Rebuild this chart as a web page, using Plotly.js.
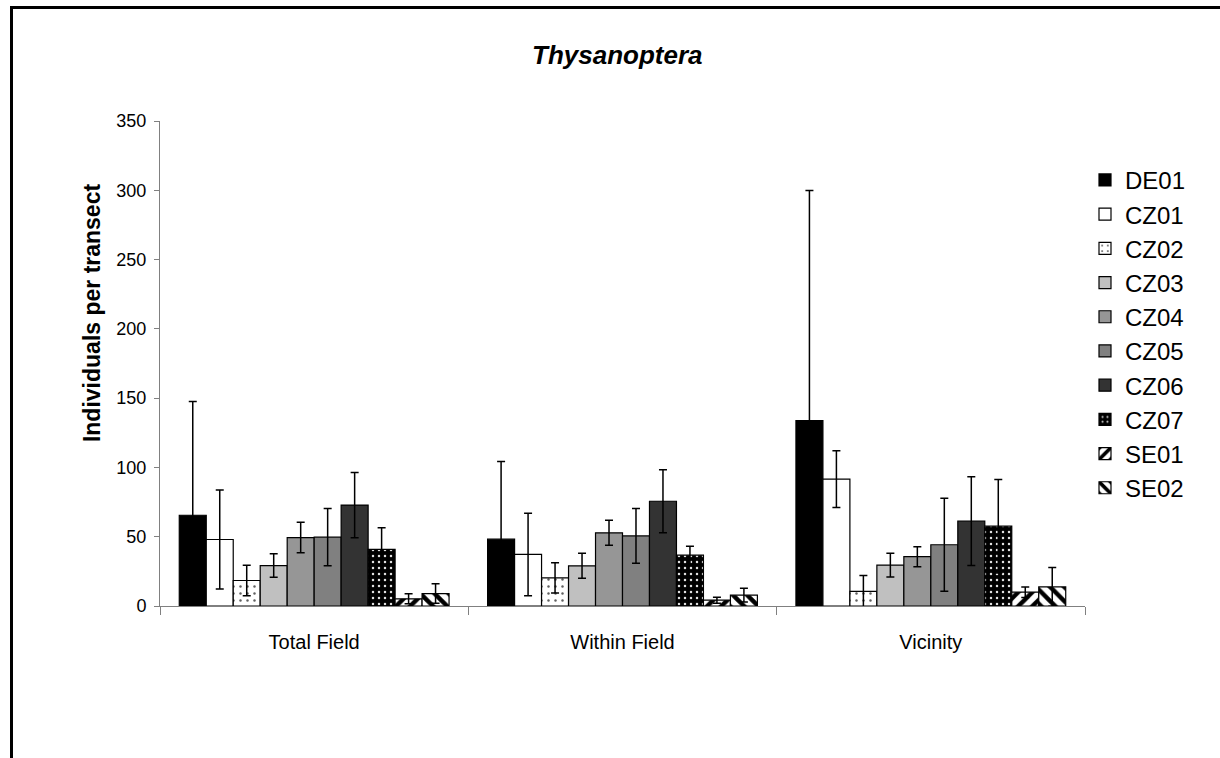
<!DOCTYPE html>
<html>
<head>
<meta charset="utf-8">
<script src="https://cdn.plot.ly/plotly-3.0.1.min.js"></script>
<style>
  html, body { margin: 0; padding: 0; background: #fff; }
  #wrap { position: relative; width: 1220px; height: 758px; overflow: hidden; }
  #chart { position: absolute; left: 0; top: 0; width: 1220px; height: 758px; }
  #frame { position: absolute; left: 10px; top: 6px; width: 1300px; height: 900px;
           border-left: 3px solid #000; border-top: 3px solid #000; pointer-events: none; }
</style>
</head>
<body>
<div id="wrap">
  <div id="chart"></div>
  <div id="frame"></div>
</div>
<script>
// Habitat categories on the x axis
const categories = ['Total Field', 'Within Field', 'Vicinity'];

// Sites (one bar series each)
const sites = ['DE01', 'CZ01', 'CZ02', 'CZ03', 'CZ04', 'CZ05', 'CZ06', 'CZ07', 'SE01', 'SE02'];

// Mean individuals per transect, per site: [Total Field, Within Field, Vicinity]
const DE01 = [65.5, 48.2, 133.8];
const CZ01 = [48.0, 37.2, 91.6];
const CZ02 = [18.4, 20.3, 10.5];
const CZ03 = [29.2, 29.0, 29.5];
const CZ04 = [49.4, 52.8, 35.6];
const CZ05 = [49.7, 50.6, 44.2];
const CZ06 = [72.8, 75.6, 61.2];
const CZ07 = [40.8, 36.7, 57.6];
const SE01 = [5.2, 4.2, 10.0];
const SE02 = [9.0, 7.8, 13.8];

// Standard deviations (symmetric error bars)
const DE01_err = [82.0, 56.0, 166.0];
const CZ01_err = [35.7, 29.8, 20.5];
const CZ02_err = [11.0, 11.0, 11.5];
const CZ03_err = [8.5, 9.0, 8.6];
const CZ04_err = [11.0, 9.0, 7.2];
const CZ05_err = [20.7, 19.8, 33.5];
const CZ06_err = [23.5, 22.8, 32.0];
const CZ07_err = [15.6, 6.5, 33.7];
const SE01_err = [3.6, 2.2, 3.8];
const SE02_err = [7.0, 5.0, 14.0];

const values = [DE01, CZ01, CZ02, CZ03, CZ04, CZ05, CZ06, CZ07, SE01, SE02];
const errors = [DE01_err, CZ01_err, CZ02_err, CZ03_err, CZ04_err, CZ05_err, CZ06_err, CZ07_err, SE01_err, SE02_err];

// Fill style of each series
const fills = [
  { color: '#000000' },
  { color: '#ffffff' },
  { color: '#ffffff', pattern: { shape: '.', fgcolor: '#606060', bgcolor: '#ffffff', size: 7, solidity: 0.1, fillmode: 'replace' } },
  { color: '#c0c0c0' },
  { color: '#969696' },
  { color: '#808080' },
  { color: '#333333' },
  { color: '#000000', pattern: { shape: '.', fgcolor: '#e0e0e0', bgcolor: '#000000', size: 6, solidity: 0.14, fillmode: 'replace' } },
  { color: '#ffffff', pattern: { shape: '/', fgcolor: '#000000', bgcolor: '#ffffff', size: 10, solidity: 0.45, fillmode: 'replace' } },
  { color: '#ffffff', pattern: { shape: '\\', fgcolor: '#000000', bgcolor: '#ffffff', size: 10, solidity: 0.45, fillmode: 'replace' } }
];

const FONT = 'Arial, "Liberation Sans", sans-serif';

const traces = sites.map((name, i) => {
  const marker = { color: fills[i].color, line: { color: '#000000', width: 1.2 } };
  if (fills[i].pattern) marker.pattern = fills[i].pattern;
  return {
    type: 'bar',
    name: name,
    x: categories,
    y: values[i],
    marker: marker,
    error_y: { type: 'data', array: errors[i], visible: true, color: '#000000', thickness: 1.5, width: 4 }
  };
});

const layout = {
  width: 1220,
  height: 758,
  margin: { l: 160, r: 135, t: 121, b: 152, pad: 0 },
  paper_bgcolor: '#ffffff',
  plot_bgcolor: '#ffffff',
  font: { family: FONT, color: '#000000' },
  barmode: 'group',
  bargap: 0.125,
  bargroupgap: 0,
  title: {
    text: '<b><i>Thysanoptera</i></b>',
    font: { family: FONT, size: 26, color: '#000000' },
    xref: 'container', yref: 'container',
    x: 0.506, xanchor: 'center',
    y: 0.927, yanchor: 'middle'
  },
  xaxis: {
    type: 'category',
    showline: true, linecolor: '#808080', linewidth: 1,
    ticks: 'outside', tickson: 'boundaries', ticklen: 8, tickcolor: '#808080', tickwidth: 1,
    tickfont: { family: FONT, size: 20, color: '#000000' },
    ticklabelstandoff: 18,
    showgrid: false, zeroline: false,
    fixedrange: true
  },
  yaxis: {
    range: [0, 350],
    tickvals: [0, 50, 100, 150, 200, 250, 300, 350],
    showline: true, linecolor: '#808080', linewidth: 1,
    ticks: 'outside', ticklen: 5, tickcolor: '#808080', tickwidth: 1,
    tickfont: { family: FONT, size: 18, color: '#000000' },
    ticklabelstandoff: 4,
    showgrid: false, zeroline: false,
    fixedrange: true
  },
  // y-axis title, placed as a rotated annotation beside the tick labels
  annotations: [{
    text: '<b>Individuals per transect</b>',
    font: { family: FONT, size: 23, color: '#000000' },
    textangle: -90,
    xref: 'paper', yref: 'paper',
    x: -0.0735, y: 0.604,
    xanchor: 'center', yanchor: 'middle',
    showarrow: false
  }],
  showlegend: true,
  legend: {
    x: 1.0, xanchor: 'left',
    y: 0.924, yanchor: 'top',
    font: { family: FONT, size: 24, color: '#000000' },
    traceorder: 'normal',
    bgcolor: 'rgba(0,0,0,0)',
    itemclick: false, itemdoubleclick: false
  }
};

Plotly.newPlot('chart', traces, layout, { displayModeBar: false, staticPlot: true });
</script>
</body>
</html>
